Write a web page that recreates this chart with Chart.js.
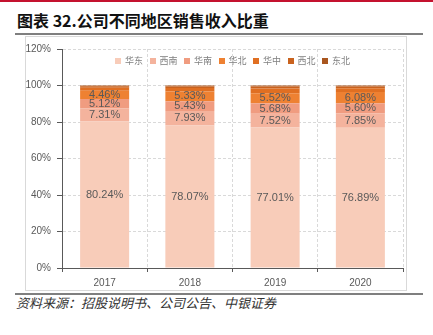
<!DOCTYPE html>
<html>
<head>
<meta charset="utf-8">
<script src="https://cdn.jsdelivr.net/npm/chart.js@4"></script>
<style>
    html, body { margin: 0; padding: 0; background: #fff; }
    body { width: 433px; height: 335px; position: relative; overflow: hidden; font-family: "Noto Sans CJK SC", sans-serif; }
    .top-rule { position: absolute; left: 0; top: 0; width: 433px; height: 2px; background: #c4122f; }
    .title { position: absolute; left: 17px; top: 9px; font-size: 16px; font-weight: bold; color: #111; line-height: 22px; white-space: nowrap; }
    .rule { position: absolute; left: 15px; width: 408px; height: 2px; background: #7f7f7f; }
    .frame { position: absolute; left: 25px; top: 36px; width: 380px; height: 253px; border: 1px solid #d9d9d9; }
    .chart-box { position: absolute; left: 26px; top: 37px; width: 379px; height: 252px; }
    .legend { position: absolute; top: 55px; left: 0; height: 12px; }
    .legend-item { position: absolute; top: 0; display: flex; align-items: center; font-size: 9px; color: #7f7f7f; white-space: nowrap; line-height: 12px; }
    .legend-item span.box { width: 6px; height: 6px; margin-right: 4px; }
    .source { position: absolute; left: 16px; top: 294px; font-size: 13px; font-style: italic; color: #333; line-height: 18px; white-space: nowrap; }
</style>
</head>
<body>
<div class="top-rule"></div>
<div class="title">图表 32.公司不同地区销售收入比重</div>
<div class="rule" style="top:33px"></div>
<div class="frame"></div>
<div class="chart-box"><canvas id="region-chart"></canvas></div>
<div class="legend" id="legend"></div>
<div class="rule" style="top:293px"></div>
<div class="source">资料来源：招股说明书、公司公告、中银证券</div>

<script>
// chart data
const years = ['2017', '2018', '2019', '2020'];
const regions = ['华东', '西南', '华南', '华北', '华中', '西北', '东北'];
const huadong = [80.24, 78.07, 77.01, 76.89];
const xinan = [7.31, 7.93, 7.52, 7.85];
const huanan = [5.12, 5.43, 5.68, 5.60];
const huabei = [4.46, 5.33, 5.52, 6.08];
const huazhong = [1.60, 1.90, 2.60, 2.10];
const xibei = [0.80, 0.85, 1.10, 0.95];
const dongbei = [0.47, 0.49, 0.57, 0.53];
const yTicks = [0, 20, 40, 60, 80, 100, 120];

const seriesValues = [huadong, xinan, huanan, huabei, huazhong, xibei, dongbei];
const regionColors = ['#f8ccb9', '#f4b39d', '#f09c80', '#ee8132', '#e06f22', '#c9621e', '#a9561f'];
const labelledSeries = 4;

// labels drawn in the middle of the first four segments
const segmentLabels = {
    id: 'segmentLabels',
    afterDatasetsDraw(chart) {
        const ctx = chart.ctx;
        ctx.save();
        ctx.font = '11px "Liberation Sans", Arial, sans-serif';
        ctx.fillStyle = '#595959';
        ctx.textAlign = 'center';
        ctx.textBaseline = 'middle';
        for (let d = 0; d < labelledSeries; d++) {
            const meta = chart.getDatasetMeta(d);
            meta.data.forEach((bar, i) => {
                const yMid = (bar.y + bar.base) / 2;
                ctx.fillText(chart.data.datasets[d].data[i].toFixed(2) + '%', bar.x, yMid);
            });
        }
        ctx.restore();
    }
};

function initializeChart() {
    const ctx = document.getElementById('region-chart').getContext('2d');
    new Chart(ctx, {
        type: 'bar',
        data: {
            labels: years,
            datasets: regions.map((name, i) => ({
                label: name,
                data: seriesValues[i],
                backgroundColor: regionColors[i],
                borderWidth: 0,
                barPercentage: 0.575,
                categoryPercentage: 1
            }))
        },
        options: {
            responsive: true,
            maintainAspectRatio: false,
            animation: false,
            layout: { padding: { top: 2, right: 2, left: 0, bottom: 0 } },
            plugins: {
                legend: { display: false },
                tooltip: { enabled: false }
            },
            scales: {
                x: {
                    stacked: true,
                    grid: {
                        color: '#d9d9d9',
                        offset: true,
                        tickLength: 4,
                        tickColor: '#595959',
                        tickBorderDash: []
                    },
                    border: { color: '#595959', width: 1, dash: [3, 2] },
                    ticks: {
                        color: '#595959',
                        padding: 5,
                        font: { family: '"Liberation Sans", Arial, sans-serif', size: 10 }
                    },
                    afterFit(scale) { scale.height = 21; }
                },
                y: {
                    stacked: true,
                    min: 0,
                    max: 120,
                    afterBuildTicks(scale) {
                        scale.ticks = yTicks.map(v => ({ value: v }));
                    },
                    grid: {
                        color: '#d9d9d9',
                        tickLength: 5,
                        tickColor: '#595959',
                        tickBorderDash: []
                    },
                    border: { color: '#595959', width: 1, dash: [3, 2] },
                    ticks: {
                        color: '#595959',
                        padding: 6,
                        font: { family: '"Liberation Sans", Arial, sans-serif', size: 10 },
                        callback: v => v + '%'
                    },
                    afterFit(scale) { scale.width = 36; }
                }
            }
        },
        plugins: [segmentLabels]
    });
}

function buildLegend() {
    const legend = document.getElementById('legend');
    regions.forEach((name, i) => {
        const item = document.createElement('div');
        item.className = 'legend-item';
        item.style.left = (115 + i * 34.5) + 'px';
        item.innerHTML = `<span class="box" style="background:${regionColors[i]}"></span>${name}`;
        legend.appendChild(item);
    });
}

buildLegend();
initializeChart();
</script>
</body>
</html>
